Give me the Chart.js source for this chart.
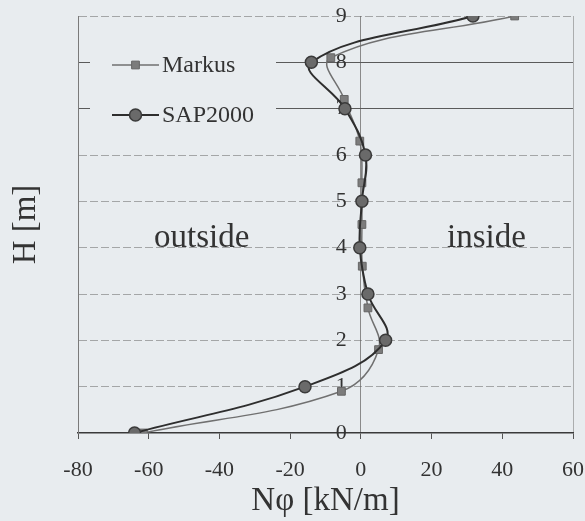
<!DOCTYPE html>
<html>
<head>
<meta charset="utf-8">
<script src="https://cdn.jsdelivr.net/npm/chart.js@4.4.1/dist/chart.umd.min.js"></script>
<style>
  html, body { margin: 0; padding: 0; background: #e8ecef; }
  #wrap { width: 585px; height: 521px; }
  canvas { display: block; }
</style>
</head>
<body>
<div id="wrap"><canvas id="c" width="585" height="521"></canvas></div>
<script>
// ---- data ----
const seriesNames = ['Markus', 'SAP2000'];
const markusHeights = [0, 0.9, 1.8, 2.7, 3.6, 4.5, 5.4, 6.3, 7.2, 8.1, 9];
const markusValues  = [-61.5, -5.5, 5, 2, 0.4, 0.3, 0.3, -0.3, -4.7, -8.5, 43.5];
const sapHeights = [0, 1, 2, 3, 4, 5, 6, 7, 8, 9];
const sapValues  = [-64, -15.8, 7, 2, -0.3, 0.3, 1.3, -4.5, -14, 31.7];
const xTickValues = [-80, -60, -40, -20, 0, 20, 40, 60];
const yTickValues = [0, 1, 2, 3, 4, 5, 6, 7, 8, 9];
const xTitle = 'Nφ [kN/m]';
const yTitle = 'H [m]';
const regionTexts = ['outside', 'inside'];
const regionAnchors = [[-45, 4.2], [35.5, 4.2]];

const BG = '#e8ecef';
const TEXT = '#333333';
const SERIF = "'Liberation Serif', 'Times New Roman', serif";

const toPoints = (xs, ys) => xs.map((v, i) => ({ x: v, y: ys[i] }));

const bgPlugin = {
  id: 'bg',
  beforeDraw(chart) {
    const { ctx, width, height } = chart;
    ctx.save();
    ctx.fillStyle = BG;
    ctx.fillRect(0, 0, width, height);
    ctx.restore();
  }
};

const legendPlugin = {
  id: 'excelLegend',
  beforeDatasetsDraw(chart) {
    const { ctx, chartArea } = chart;
    const left = chartArea.left;
    ctx.save();
    ctx.fillStyle = BG;
    ctx.fillRect(left + 12, chartArea.top + 16, 186, 108);
    [0, 1].forEach((di, r) => {
      const ds = chart.data.datasets[di];
      const y = chartArea.top + 49 + r * 50;
      const x0 = left + 34, x1 = left + 81;
      ctx.strokeStyle = ds.borderColor;
      ctx.lineWidth = ds.borderWidth;
      ctx.beginPath();
      ctx.moveTo(x0, y);
      ctx.lineTo(x1, y);
      ctx.stroke();
      ctx.fillStyle = ds.pointBackgroundColor;
      ctx.strokeStyle = ds.pointBorderColor;
      ctx.lineWidth = ds.pointBorderWidth;
      Chart.helpers.drawPoint(ctx, {
        pointStyle: ds.pointStyle, radius: ds.pointRadius, rotation: 0, borderWidth: ds.pointBorderWidth
      }, (x0 + x1) / 2, y);
      ctx.fillStyle = TEXT;
      ctx.font = "24px " + SERIF;
      ctx.textAlign = 'left';
      ctx.textBaseline = 'middle';
      ctx.fillText(ds.label, x1 + 3, y + 1);
    });
    ctx.restore();
  }
};

const regionPlugin = {
  id: 'regions',
  afterDatasetsDraw(chart) {
    const { ctx, scales } = chart;
    ctx.save();
    ctx.fillStyle = TEXT;
    ctx.font = "33px " + SERIF;
    ctx.textAlign = 'center';
    ctx.textBaseline = 'middle';
    regionTexts.forEach((t, i) => {
      const [vx, vy] = regionAnchors[i];
      ctx.fillText(t, scales.x.getPixelForValue(vx), scales.y.getPixelForValue(vy));
    });
    ctx.restore();
  }
};

const yGridColor = (c) => {
  const v = c.tick ? c.tick.value : null;
  if (v === 0) return 'rgba(0,0,0,0)';
  if (v === 7 || v === 8) return '#5a5a5a';
  return 'rgba(95,95,95,0.5)';
};
const yGridDash = (c) => {
  const v = c.tick ? c.tick.value : null;
  if (v === 7 || v === 8) return [];
  return [8, 3];
};

new Chart(document.getElementById('c'), {
  type: 'scatter',
  data: {
    datasets: [
      {
        label: seriesNames[0],
        data: toPoints(markusValues, markusHeights),
        showLine: true,
        tension: 0.4,
        borderColor: '#707070',
        borderWidth: 1.5,
        pointStyle: 'rect',
        pointRadius: 5.5,
        pointBackgroundColor: '#7c7c7c',
        pointBorderColor: '#666666',
        pointBorderWidth: 1,
        order: 1
      },
      {
        label: seriesNames[1],
        data: toPoints(sapValues, sapHeights),
        showLine: true,
        tension: 0.4,
        borderColor: '#2e2e2e',
        borderWidth: 2,
        pointStyle: 'circle',
        pointRadius: 6,
        pointBackgroundColor: '#6a6a6a',
        pointBorderColor: '#3a3a3a',
        pointBorderWidth: 1.5,
        order: 0
      }
    ]
  },
  options: {
    responsive: false,
    animation: false,
    devicePixelRatio: 1,
    layout: { padding: { top: 16, right: 12, left: 0, bottom: 0 } },
    plugins: {
      legend: { display: false },
      tooltip: { enabled: false }
    },
    scales: {
      x: {
        type: 'linear',
        position: 'bottom',
        min: -80, max: 60,
        afterBuildTicks: (s) => { s.ticks = xTickValues.map(v => ({ value: v })); },
        ticks: { font: { family: SERIF, size: 22 }, color: TEXT, padding: 18, maxRotation: 0 },
        grid: {
          color: (c) => {
            const v = c.tick ? c.tick.value : null;
            if (v === 0) return '#8a8a8a';
            if (v === 60) return 'rgba(110,110,110,0.5)';
            return 'rgba(0,0,0,0)';
          },
          lineWidth: 1,
          drawTicks: true,
          tickLength: 6,
          tickColor: '#555555'
        },
        border: { display: true, color: '#3a3a3a', width: 1.5 },
        title: { display: true, text: xTitle, font: { family: SERIF, size: 33 }, color: TEXT, padding: { top: 0, bottom: 0 } },
        afterFit: (s) => { s.height = 88; s.paddingLeft = 0; s.paddingRight = 0; }
      },
      y: {
        type: 'linear',
        position: 'left',
        min: 0, max: 9,
        afterBuildTicks: (s) => { s.ticks = yTickValues.map(v => ({ value: v })); },
        ticks: { display: false },
        grid: { color: yGridColor, lineWidth: 1, drawTicks: false },
        border: { display: true, color: '#7a7a7a', width: 1, dash: yGridDash },
        title: { display: true, text: yTitle, font: { family: SERIF, size: 33 }, color: TEXT, padding: { top: 7, bottom: 0 } },
        afterFit: (s) => { s.width = 78; s.paddingTop = 0; s.paddingBottom = 0; }
      },
      y2: {
        type: 'linear',
        axis: 'y',
        position: { x: -4 },
        min: 0, max: 9,
        afterBuildTicks: (s) => { s.ticks = yTickValues.map(v => ({ value: v })); },
        ticks: { font: { family: SERIF, size: 22 }, color: TEXT, padding: 0 },
        grid: { display: false, drawTicks: false },
        border: { display: false },
        afterFit: (s) => { s.width = 0; s.paddingTop = 0; s.paddingBottom = 0; s.paddingLeft = 0; s.paddingRight = 0; }
      }
    }
  },
  plugins: [bgPlugin, legendPlugin, regionPlugin]
});
</script>
</body>
</html>
